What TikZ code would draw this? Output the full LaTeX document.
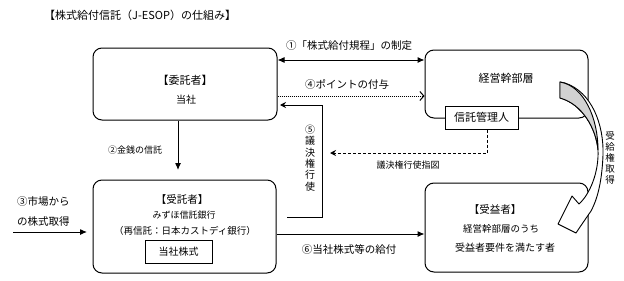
\documentclass[tikz,border=0pt]{standalone}
\usepackage{fontspec}
\setmainfont{Noto Sans CJK JP}
\usetikzlibrary{arrows.meta}
\begin{document}
\begin{tikzpicture}[x=1pt,y=-1pt,
  box/.style={draw,line width=1pt,rounded corners=9pt,fill=white,inner sep=0pt},
  sqbox/.style={draw,line width=1pt,fill=white,inner sep=0pt},
  lbl/.style={inner sep=0pt,font=\fontsize{10}{12}\selectfont},
  conn/.style={line width=1pt},
  tipa/.style={-{Latex[length=7pt,width=6pt]}},
  vert/.style={inner sep=0pt,align=center,font=\fontsize{10}{11.3}\selectfont},
]
\useasboundingbox (0,0) rectangle (624,281);
% title
\node[anchor=west,inner sep=0pt,font=\fontsize{11}{13}\selectfont] (title) at (44,15) {【株式給付信託（J-ESOP）の仕組み】};
% boxes
\node[box,minimum width=184pt,minimum height=72pt] (itaku) at (185,84) {};
\node[box,minimum width=163pt,minimum height=68pt] (keiei) at (506.5,84) {};
\node[box,minimum width=183pt,minimum height=93pt] (jutaku) at (184.5,226.5) {};
\node[box,minimum width=163pt,minimum height=89pt] (jueki) at (506.5,227.5) {};
\node[sqbox,minimum width=73pt,minimum height=23pt,font=\fontsize{11}{13}\selectfont] (kanri) at (481.5,117.5) {信託管理人};
\node[sqbox,minimum width=67pt,minimum height=23pt,font=\fontsize{10}{12}\selectfont] (kabu) at (178.5,251.5) {当社株式};
% box texts
\node[lbl,font=\fontsize{11}{13}\selectfont] (itakuT) at (185,80) {【委託者】};
\node[lbl] (itakuS) at (186,100) {当社};
\node[lbl,font=\fontsize{11}{13}\selectfont] (keieiT) at (506,78) {経営幹部層};
\node[lbl,font=\fontsize{10.5}{12}\selectfont] (jutakuT) at (182,200) {【受託者】};
\node[lbl,font=\fontsize{9}{11}\selectfont] (jutakuS) at (184,215) {みずほ信託銀行};
\node[lbl,font=\fontsize{9.5}{11}\selectfont] (jutakuR) at (185,231) {（再信託：日本カストディ銀行）};
\node[lbl,font=\fontsize{10.5}{12}\selectfont] (juekiT) at (495,210) {【受益者】};
\node[lbl,font=\fontsize{9.5}{11}\selectfont] (juekiS) at (501,229) {経営幹部層のうち};
\node[lbl] (juekiR) at (505,248) {受益者要件を満たす者};
% helper coordinates
\coordinate (y60) at (0,60);
\coordinate (y96) at (0,96);
\coordinate (s5) at (287,217);
\coordinate (k5a) at (322,217);
\coordinate (k5b) at (322,105);
\coordinate (e5) at (280,105);
\coordinate (ds) at (487,153);
\coordinate (de) at (330,153);
\coordinate (c2) at (178,170);
\coordinate (c3s) at (13,232);
\coordinate (c3e) at (87,232);
\coordinate (y234) at (0,234);
% connectors
\draw[conn,{Latex[length=7pt,width=6pt]}-{Latex[length=7pt,width=6pt]}] (itaku.east |- y60) -- (keiei.west |- y60);
\draw[conn,dash pattern=on 1pt off 1pt,-{Straight Barb[length=4pt,width=9pt]}] (itaku.east |- y96) -- (keiei.west |- y96);
\draw[conn,-{Stealth[length=6pt,width=6pt]}] (s5) -- (k5a) -- (k5b) -- (e5);
\draw[conn,dash pattern=on 3pt off 2pt,-{Stealth[length=6pt,width=6pt]}] (kanri.south -| ds) -- (ds) -- (de);
\draw[conn,tipa] (itaku.south -| c2) -- (c2);
\draw[conn,tipa] (c3s) -- (c3e);
\draw[conn,tipa] (jutaku.east |- y234) -- (jueki.west |- y234);
% labels
\node[lbl,font=\fontsize{10.5}{12}\selectfont] (t1) at (349,46) {①「株式給付規程」の制定};
\node[lbl,font=\fontsize{10.5}{12}\selectfont] (t4) at (347,84) {④ポイントの付与};
\node[vert] (t5) at (310,158) {⑤\\議\\決\\権\\行\\使};
\node[lbl,font=\fontsize{9}{11}\selectfont] (tdash) at (408,165) {議決権行使指図};
\node[lbl,font=\fontsize{9}{11}\selectfont] (t2) at (135,150) {②金銭の信託};
\node[lbl,font=\fontsize{10.5}{12}\selectfont,anchor=west] (t3a) at (17,202) {③市場から};
\node[lbl,font=\fontsize{10.5}{12}\selectfont,anchor=west] (t3b) at (17,222) {の株式取得};
\node[lbl,font=\fontsize{10.5}{12}\selectfont] (t6) at (349,250) {⑥当社株式等の給付};
\node[vert,font=\fontsize{9.5}{11}\selectfont] (tj) at (610,158) {受\\給\\権\\取\\得};
% curved arrow
\filldraw[fill=white,line width=0.9pt,line join=round] (560,82) -- (565,83) .. controls (592,92) and (604,125) .. (603,155) .. controls (602,180) and (598,198) .. (591,211) -- (580,227) -- (576,233) -- (558,224) -- (572,196) -- (579,204) .. controls (590,194) and (599,172) .. (598,150) .. controls (596,128) and (582,104) .. (560,98) -- cycle;
\filldraw[fill=gray!35,line width=0.9pt,line join=round] (560,82) .. controls (584,86) and (598,118) .. (598,150) .. controls (596,128) and (582,104) .. (560,98) -- cycle;
\end{tikzpicture}
\end{document}
